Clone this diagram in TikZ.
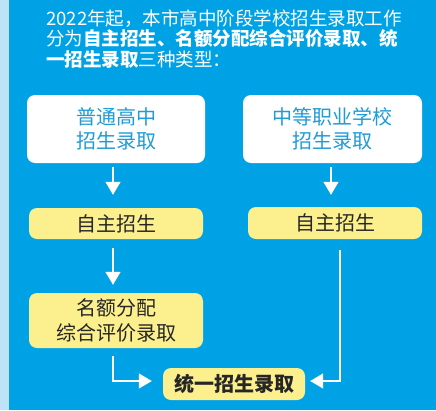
\documentclass[tikz,border=0pt]{standalone}
\usepackage{fontspec}
\setmainfont{Noto Sans CJK SC}
\usetikzlibrary{arrows.meta}

\definecolor{stripblue}{HTML}{BDE3F6}
\definecolor{bgblue}{HTML}{00A2E6}
\definecolor{boxyellow}{HTML}{FCF08E}
\definecolor{textblue}{HTML}{1F9BD7}

\begin{document}
\begin{tikzpicture}[x=1pt,y=-1pt,
    headtext/.style={anchor=base west, inner sep=0, text=white, font=\fontsize{18.5}{21}\selectfont},
    whitebox/.style={fill=white, rounded corners=8pt, align=center, text=textblue, inner sep=0,
        font=\fontsize{20}{24}\selectfont},
    yellowbox/.style={fill=boxyellow, rounded corners=8pt, align=center, text=black!85, inner sep=0,
        font=\fontsize{20}{25}\selectfont},
    flow/.style={draw=white, line width=1.4pt, -{Triangle[width=15pt,length=13pt]}}]

        \useasboundingbox (0,0) rectangle (436,410);
        \fill[stripblue] (0,0) rectangle (436,410);
        \fill[bgblue] (9,0) rectangle (436,410);

        \node[headtext] (h1) at (46,25) {2022年起，本市高中阶段学校招生录取工作};
        \node[headtext] (h2) at (46,45.5) {分为\textbf{自主招生、名额分配综合评价录取、统}};
        \node[headtext] (h3) at (46,66) {\textbf{一招生录取}三种类型：};

        \node[whitebox, minimum width=178pt, minimum height=68pt] (pg) at (116,129) {普通高中\\招生录取};
        \node[whitebox, minimum width=179pt, minimum height=68pt] (zz) at (332.5,129) {中等职业学校\\招生录取};

        \node[yellowbox, minimum width=174pt, minimum height=31pt] (zzpg) at (116,223.5) {自主招生};
        \node[yellowbox, minimum width=174pt, minimum height=32pt] (zzzz) at (335,223) {自主招生};
        \node[yellowbox, minimum width=174pt, minimum height=55pt] (mefp) at (116,320.5) {名额分配\\综合评价录取};
        \node[yellowbox, minimum width=142pt, minimum height=32pt, font=\fontsize{20}{25}\selectfont\bfseries] (tyzs) at (234,384) {统一招生录取};

        \draw[flow, shorten <=4pt, shorten >=13pt] ([xshift=-3pt]pg.south) -- ([xshift=-3pt]zzpg.north);
        \draw[flow, shorten <=4pt, shorten >=12pt] ([xshift=-1.5pt]zz.south) -- ([xshift=-1.5pt]zz.south |- zzzz.north);
        \draw[flow, shorten <=9pt, shorten >=8pt] ([xshift=-3pt]zzpg.south) -- ([xshift=-3pt]mefp.north);
        \draw[flow, shorten <=8pt, shorten >=11pt] ([xshift=-3pt]mefp.south) |- ([yshift=3pt]tyzs.west);
        \draw[flow, shorten <=11pt, shorten >=5pt] ([xshift=5pt]zzzz.south) |- ([yshift=3pt]tyzs.east);

    \end{tikzpicture}
\end{document}
